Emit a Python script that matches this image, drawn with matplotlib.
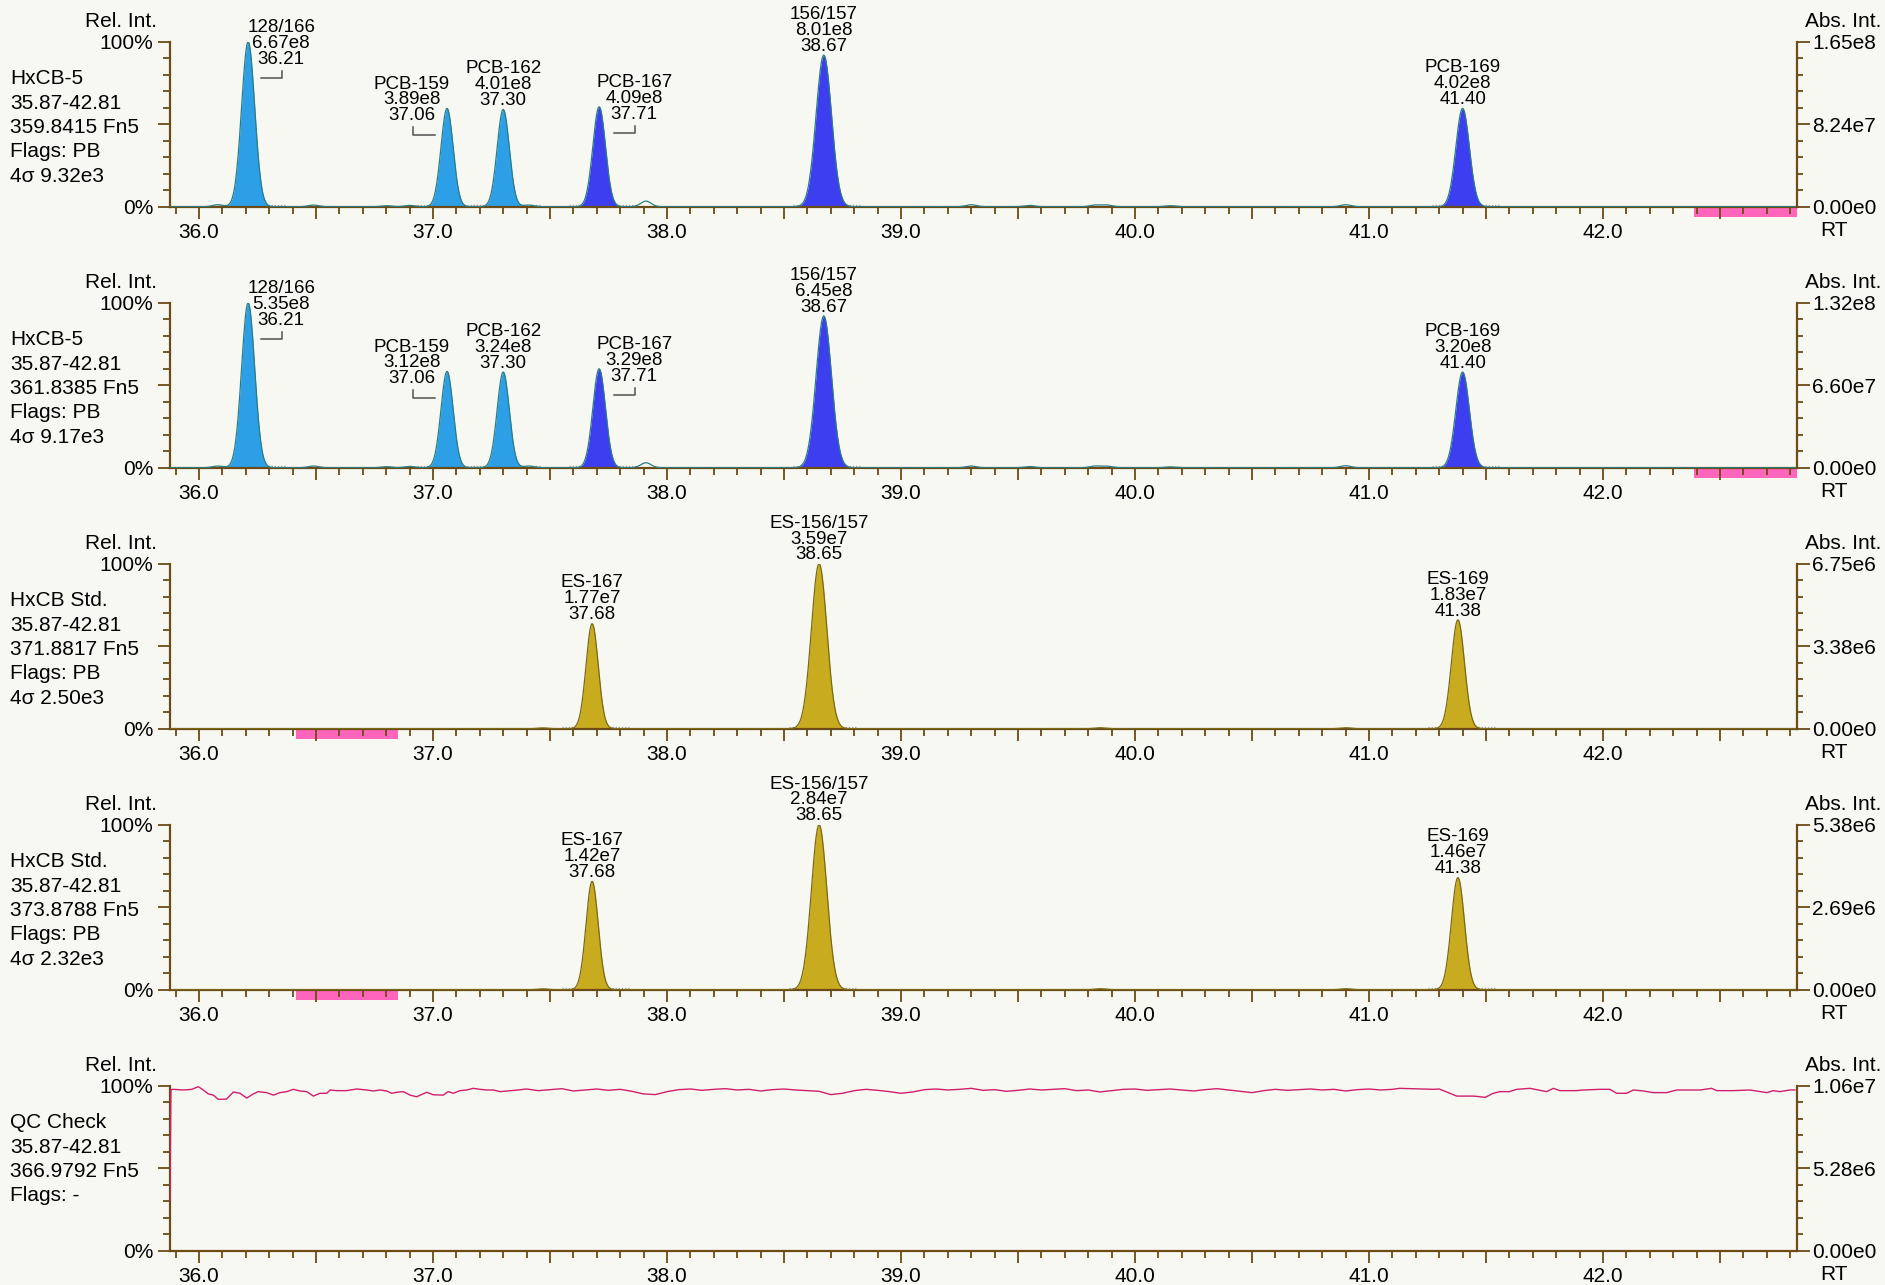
import numpy as np
import matplotlib
matplotlib.use("Agg")
import matplotlib.pyplot as plt
from matplotlib.patches import Rectangle
from matplotlib.transforms import blended_transform_factory, Affine2D

plt.rcParams['font.family'] = ['Liberation Sans', 'DejaVu Sans']

# ------------------------------------------------------------------ data
rt_window = (35.876, 42.829)

panel_compound = ['HxCB-5', 'HxCB-5', 'HxCB Std.', 'HxCB Std.', 'QC Check']
panel_range = ['35.87-42.81', '35.87-42.81', '35.87-42.81', '35.87-42.81', '35.87-42.81']
panel_mass = ['359.8415 Fn5', '361.8385 Fn5', '371.8817 Fn5', '373.8788 Fn5', '366.9792 Fn5']
panel_flags = ['Flags: PB', 'Flags: PB', 'Flags: PB', 'Flags: PB', 'Flags: -']
panel_noise = ['4σ 9.32e3', '4σ 9.17e3', '4σ 2.50e3', '4σ 2.32e3', '']
abs_max_labels = ['1.65e8', '1.32e8', '6.75e6', '5.38e6', '1.06e7']
abs_mid_labels = ['8.24e7', '6.60e7', '3.38e6', '2.69e6', '5.28e6']
abs_zero_label = '0.00e0'

# native congener peaks (panels 1 and 2)
native_names = ['128/166', 'PCB-159', 'PCB-162', 'PCB-167', '156/157', 'PCB-169']
native_rt = [36.21, 37.06, 37.30, 37.71, 38.67, 41.40]
native_group = ['a', 'a', 'a', 'b', 'b', 'b']
p1_area = ['6.67e8', '3.89e8', '4.01e8', '4.09e8', '8.01e8', '4.02e8']
p1_height = [1.00, 0.596, 0.590, 0.606, 0.919, 0.596]
p2_area = ['5.35e8', '3.12e8', '3.24e8', '3.29e8', '6.45e8', '3.20e8']
p2_height = [1.00, 0.584, 0.580, 0.600, 0.920, 0.580]
native_width = [0.028, 0.026, 0.026, 0.027, 0.033, 0.029]

# labelled standards (panels 3 and 4)
std_names = ['ES-167', 'ES-156/157', 'ES-169']
std_rt = [37.68, 38.65, 41.38]
p3_area = ['1.77e7', '3.59e7', '1.83e7']
p3_height = [0.637, 1.00, 0.660]
p4_area = ['1.42e7', '2.84e7', '1.46e7']
p4_height = [0.657, 1.00, 0.680]
std_width = [0.026, 0.033, 0.028]

# small baseline bumps
native_bump_rt = [36.08, 36.49, 36.80, 36.90, 37.41, 37.91, 39.30, 39.55, 39.83, 39.88, 40.15, 40.90]
p1_bump_h = [0.012, 0.010, 0.006, 0.008, 0.010, 0.034, 0.012, 0.008, 0.010, 0.010, 0.006, 0.012]
p2_bump_h = [0.010, 0.010, 0.006, 0.008, 0.010, 0.030, 0.010, 0.007, 0.010, 0.009, 0.005, 0.012]
std_bump_rt = [37.47, 39.85, 40.90]
p3_bump_h = [0.005, 0.006, 0.006]
p4_bump_h = [0.005, 0.006, 0.006]

# flagged RT regions (pink bars)
flag_start = [42.39, 42.39, 36.415, 36.415, None]
flag_end = [42.829, 42.829, 36.85, 36.85, None]

# QC check lock-mass trace (% of 1.06e7)
qc_rt = [35.876, 35.880, 35.890, 35.933, 35.969, 35.997, 36.018, 36.040, 36.061, 36.083,
         36.118, 36.147, 36.175, 36.204, 36.232, 36.253, 36.289, 36.318, 36.346, 36.375,
         36.403, 36.432, 36.460, 36.489, 36.517, 36.546, 36.560, 36.588, 36.631, 36.674,
         36.717, 36.745, 36.774, 36.802, 36.823, 36.845, 36.873, 36.902, 36.930, 36.973,
         37.001, 37.044, 37.065, 37.087, 37.115, 37.144, 37.172, 37.201, 37.229, 37.258,
         37.286, 37.35, 37.40, 37.45, 37.50, 37.55, 37.60, 37.65, 37.70, 37.75,
         37.80, 37.85, 37.90, 37.95, 38.00, 38.05, 38.10, 38.15, 38.20, 38.25,
         38.30, 38.35, 38.40, 38.45, 38.50, 38.55, 38.60, 38.65, 38.70, 38.75,
         38.80, 38.85, 38.90, 38.95, 39.00, 39.05, 39.10, 39.15, 39.20, 39.25,
         39.30, 39.35, 39.40, 39.45, 39.50, 39.55, 39.60, 39.65, 39.70, 39.75,
         39.80, 39.85, 39.90, 39.95, 40.00, 40.05, 40.10, 40.15, 40.20, 40.25,
         40.30, 40.35, 40.40, 40.45, 40.50, 40.55, 40.60, 40.65, 40.70, 40.75,
         40.80, 40.85, 40.90, 40.95, 41.00, 41.05, 41.10, 41.13, 41.275, 41.30,
         41.375, 41.40, 41.446, 41.47, 41.496, 41.531, 41.56, 41.60, 41.631, 41.688,
         41.759, 41.788, 41.816, 41.887, 41.916, 41.987, 42.03, 42.058, 42.101, 42.13,
         42.172, 42.215, 42.272, 42.315, 42.343, 42.415, 42.464, 42.486, 42.557, 42.628,
         42.70, 42.728, 42.756, 42.799, 42.82]
qc_val = [30.0, 97.6, 97.8, 97.4, 97.8, 99.4, 97.4, 95.0, 94.3, 91.7,
          91.9, 96.2, 95.4, 92.5, 95.0, 96.4, 95.8, 94.3, 95.8, 96.4,
          97.8, 96.8, 96.4, 93.7, 95.4, 95.4, 97.4, 97.0, 97.0, 98.0,
          97.4, 96.8, 97.4, 96.8, 95.4, 96.0, 96.4, 94.3, 93.3, 96.0,
          94.5, 94.3, 96.4, 95.4, 97.0, 97.4, 98.4, 97.8, 97.4, 97.4,
          96.4, 97.2, 98.0, 97.0, 97.6, 98.2, 96.8, 97.4, 98.0, 97.2,
          97.8, 96.6, 95.0, 94.6, 96.4, 97.6, 98.0, 97.2, 97.8, 98.2,
          97.4, 97.8, 96.8, 97.6, 98.0, 97.4, 97.0, 96.6, 94.6, 95.4,
          97.0, 97.8, 97.2, 96.4, 95.4, 96.2, 97.6, 98.0, 97.4, 97.8,
          98.4, 97.2, 97.6, 96.6, 97.2, 98.0, 97.4, 97.8, 98.2, 97.0,
          97.4, 96.2, 97.0, 97.8, 98.0, 97.2, 97.6, 98.0, 97.4, 96.8,
          97.6, 98.2, 97.4, 96.6, 95.8, 97.0, 97.8, 97.2, 97.6, 98.0,
          97.4, 97.8, 96.8, 97.6, 98.0, 97.4, 97.8, 98.4, 97.8, 98.0,
          93.7, 93.7, 93.7, 93.4, 92.9, 95.4, 96.4, 96.4, 97.8, 98.4,
          96.4, 98.4, 97.0, 97.0, 97.4, 97.8, 97.8, 95.4, 95.4, 97.4,
          96.8, 95.8, 95.8, 97.4, 97.4, 97.4, 98.4, 97.0, 97.0, 97.4,
          95.8, 97.0, 96.4, 97.4, 97.4]

# ------------------------------------------------------------------ style
W, H, DPI = 1885, 1285, 100
BG = '#f8f8f3'
AXC = '#6b4b16'
TRACE_NATIVE = '#2b7d86'
TRACE_STD = '#7a6a14'
FILL = {'a': '#2d9fe6', 'b': '#3d3ef0', 's': '#c9ab1f'}
PINK = '#ff66bb'
QCC = '#cf1f6c'
AX_L, AX_R = 170.0, 1797.0
TOP0, PITCH, PH = 41.7, 261.0, 165.0
FS_AX = 15
FS_PK = 13.5
LINE_PITCH = 15.9
# label offsets (pixels) for labels pushed to the side of their peak
label_shift = {'128/166': (33, -22), 'PCB-159': (-35, -12), 'PCB-167': (35, -12)}

fig = plt.figure(figsize=(W / DPI, H / DPI), dpi=DPI, facecolor=BG)
xgrid = np.arange(rt_window[0], rt_window[1], 0.003)


def gauss(x, c, h, s):
    return h * np.exp(-0.5 * ((x - c) / s) ** 2)


panels = [
    dict(kind='native', names=native_names, rt=native_rt, h=p1_height, area=p1_area,
         w=native_width, grp=native_group, brt=native_bump_rt, bh=p1_bump_h),
    dict(kind='native', names=native_names, rt=native_rt, h=p2_height, area=p2_area,
         w=native_width, grp=native_group, brt=native_bump_rt, bh=p2_bump_h),
    dict(kind='std', names=std_names, rt=std_rt, h=p3_height, area=p3_area,
         w=std_width, grp=['s'] * 3, brt=std_bump_rt, bh=p3_bump_h),
    dict(kind='std', names=std_names, rt=std_rt, h=p4_height, area=p4_area,
         w=std_width, grp=['s'] * 3, brt=std_bump_rt, bh=p4_bump_h),
    dict(kind='qc'),
]

for k, P in enumerate(panels):
    top = TOP0 + PITCH * k
    bot = top + PH
    ax = fig.add_axes([AX_L / W, 1 - bot / H, (AX_R - AX_L) / W, PH / H])
    ax.set_facecolor('none')
    ax.set_xlim(*rt_window)
    ax.set_ylim(0, 1)
    ax.autoscale(False)

    # flagged region
    if flag_start[k] is not None:
        tr = blended_transform_factory(ax.transData, ax.transAxes)
        ax.add_patch(Rectangle((flag_start[k], -10.5 / PH), flag_end[k] - flag_start[k], 10.5 / PH,
                               transform=tr, facecolor=PINK, edgecolor='none',
                               clip_on=False, zorder=1))

    if P['kind'] == 'qc':
        ax.plot(qc_rt, np.array(qc_val) / 100.0, color=QCC, lw=1.0, zorder=3)
    else:
        tcol = TRACE_NATIVE if P['kind'] == 'native' else TRACE_STD
        y = np.zeros_like(xgrid)
        for c, h, s in zip(P['rt'], P['h'], P['w']):
            y += gauss(xgrid, c, h, s)
        for c, h in zip(P['brt'], P['bh']):
            y += gauss(xgrid, c, h, 0.022)
        # filled peaks
        for c, s, g in zip(P['rt'], P['w'], P['grp']):
            m = (xgrid > c - 3.3 * s) & (xgrid < c + 3.3 * s)
            ax.fill_between(xgrid[m], 0, y[m], color=FILL[g], lw=0, zorder=2)
            ax.plot([c - 0.13, c + 0.16], [0.012, 0.012], color='#a0a0a0', lw=0.9,
                    ls=(0, (1, 1.5)), zorder=1.5)
        ax.plot(xgrid, y, color=tcol, lw=0.9, zorder=3)

        # peak labels
        for name, c, h, area in zip(P['names'], P['rt'], P['h'], P['area']):
            dx, dy = label_shift.get(name, (0, 4.3))
            lines = [f'{c:.2f}', area, name]
            for i, t in enumerate(lines):
                ax.annotate(t, xy=(c, h), xytext=(dx, dy + i * LINE_PITCH),
                            textcoords='offset pixels', ha='center', va='baseline',
                            fontsize=FS_PK, annotation_clip=False, zorder=5)
            if name in label_shift:
                ax_disp = ax.transData.transform((c, h))
                sgn = -1 if dx > 0 else 1
                xs = [dx + 1 + sgn * 21.5, dx + 1, dx + 1]
                ys = [dy - 14.5, dy - 14.5, dy - 7]
                ax.plot(xs, ys, color='#505050', lw=1.1, clip_on=False, zorder=5,
                        transform=Affine2D().translate(*ax_disp))

    # spines
    ax.spines['top'].set_visible(False)
    ax.spines['right'].set_visible(False)
    for sp in ['left', 'bottom']:
        ax.spines[sp].set_color(AXC)
        ax.spines[sp].set_linewidth(1.6)

    # x ticks
    xmaj = np.arange(36.0, 42.51, 0.5)
    xmin = np.arange(35.9, 42.81, 0.1)
    ax.set_xticks(xmaj)
    ax.set_xticklabels([f'{v:.1f}' if abs(v - round(v)) < 1e-6 else '' for v in xmaj])
    ax.set_xticks(xmin, minor=True)
    ax.tick_params(axis='x', which='major', length=8.8, width=1.3, color=AXC,
                   pad=2.6, labelsize=FS_AX)
    ax.tick_params(axis='x', which='minor', length=4.8, width=1.3, color=AXC)

    # left y ticks
    ax.set_yticks([0, 0.5, 1.0])
    ax.set_yticklabels(['0%', '', '100%'])
    ax.set_yticks(np.arange(0.1, 1.0, 0.1), minor=True)
    ax.tick_params(axis='y', which='major', length=8.8, width=1.3, color=AXC,
                   pad=3.0, labelsize=FS_AX)
    ax.tick_params(axis='y', which='minor', length=4.8, width=1.3, color=AXC)

    # right y axis
    ax2 = ax.twinx()
    ax2.set_ylim(0, 1)
    for sp in ['top', 'left', 'bottom']:
        ax2.spines[sp].set_visible(False)
    ax2.spines['right'].set_color(AXC)
    ax2.spines['right'].set_linewidth(1.6)
    ax2.set_yticks([0, 0.5, 1.0])
    ax2.set_yticklabels([abs_zero_label, abs_mid_labels[k], abs_max_labels[k]])
    ax2.set_yticks(np.arange(0.1, 1.0, 0.1), minor=True)
    ax2.tick_params(axis='y', which='major', length=9.5, width=1.3, color=AXC,
                    pad=1.5, labelsize=FS_AX)
    ax2.tick_params(axis='y', which='minor', length=4.5, width=1.3, color=AXC)

    # texts
    fig.text(157 / W, 1 - (top - 15) / H, 'Rel. Int.', ha='right', va='baseline', fontsize=FS_AX)
    fig.text(1805 / W, 1 - (top - 15) / H, 'Abs. Int.', ha='left', va='baseline', fontsize=FS_AX)
    fig.text(1820 / W, 1 - (bot + 23.5) / H, 'RT', ha='left', va='center', fontsize=FS_AX)
    block = [panel_compound[k], panel_range[k], panel_mass[k], panel_flags[k], panel_noise[k]]
    for i, t in enumerate([b for b in block if b]):
        fig.text(10 / W, 1 - (top + 42.5 + 24.4 * i) / H, t, ha='left', va='baseline',
                 fontsize=FS_AX)

fig.savefig('out.png', dpi=DPI, facecolor=BG)
